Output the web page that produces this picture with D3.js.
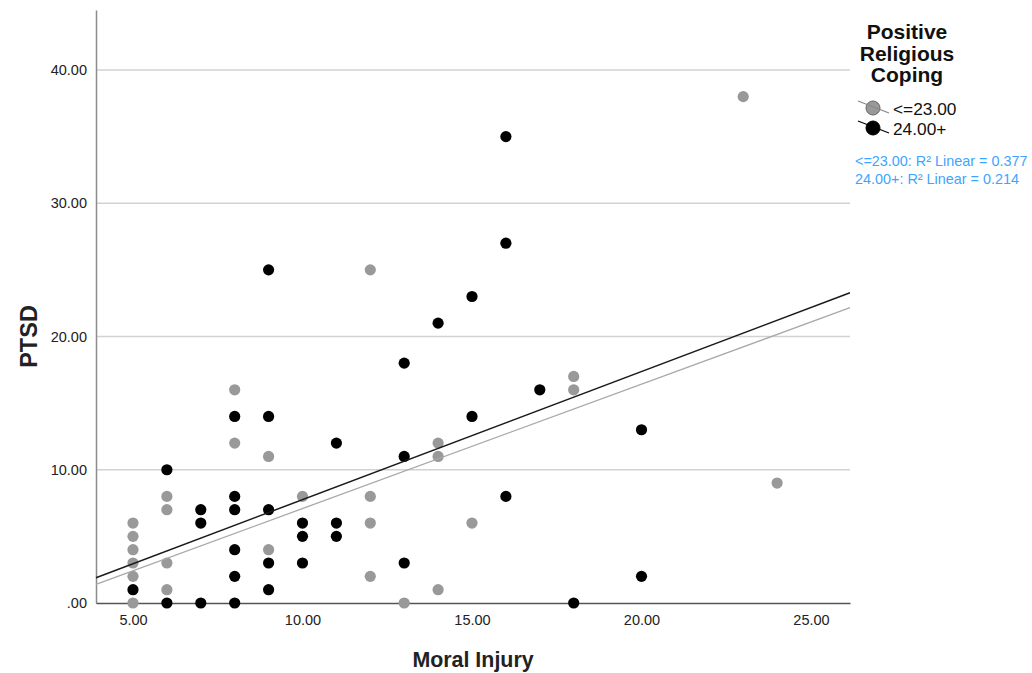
<!DOCTYPE html>
<html>
<head>
<meta charset="utf-8">
<script src="https://cdn.jsdelivr.net/npm/d3@7"></script>
<style>
  body { margin: 0; background: #fff; }
  text { font-family: "Liberation Sans", Arial, sans-serif; }
</style>
</head>
<body>
<svg id="chart" width="1032" height="673"></svg>
<script>
// values
const groups = ["<=23.00", "24.00+"];
const groupColors = ["#999999", "#000000"];
const lineColors = ["#a8a8a8", "#1a1a1a"];

const lowX = [5, 5, 5, 5, 5, 5, 6, 6, 6, 6, 8, 8, 9, 9, 10, 12, 12, 12, 12, 13, 14, 14, 14, 15, 18, 18, 23, 24];
const lowY = [6, 5, 4, 3, 2, 0, 8, 7, 3, 1, 16, 12, 11, 4, 8, 25, 8, 6, 2, 0, 12, 11, 1, 6, 17, 16, 38, 9];

const highX = [5, 6, 6, 7, 7, 7, 8, 8, 8, 8, 8, 8, 9, 9, 9, 9, 9, 10, 10, 10, 11, 11, 11, 13, 13, 13, 14, 15, 15, 16, 16, 16, 17, 18, 20, 20];
const highY = [1, 10, 0, 7, 6, 0, 14, 8, 7, 4, 2, 0, 25, 14, 7, 3, 1, 6, 5, 3, 12, 6, 5, 18, 11, 3, 21, 23, 14, 35, 27, 8, 16, 0, 13, 2];

// fit lines (intercept, slope) per group
const fitIntercept = [-2.245, -1.861];
const fitSlope = [0.9333, 0.9617];
const rSquared = ["0.377", "0.214"];

const xTicks = [5, 10, 15, 20, 25];
const yTicks = [0, 10, 20, 30, 40];

const margin = {top: 10, right: 182, bottom: 70, left: 96};
const width = 1032, height = 673;

const svg = d3.select("#chart");

const x = d3.scaleLinear()
  .domain([3.909, 26.15])
  .range([margin.left, width - margin.right]);
const y = d3.scaleLinear()
  .domain([0, 44.5])
  .range([height - margin.bottom, margin.top]);

const fmt = d => d === 0 ? ".00" : d3.format(".2f")(d);

// gridlines
svg.append("g")
  .selectAll("line")
  .data(yTicks.filter(d => d > 0))
  .enter()
  .append("line")
  .attr("x1", x.range()[0])
  .attr("x2", x.range()[1])
  .attr("y1", d => y(d))
  .attr("y2", d => y(d))
  .attr("stroke", "#d2d2d2")
  .attr("stroke-width", 1.6);

// y axis
const yAxis = svg.append("g")
  .attr("transform", `translate(${margin.left},0)`)
  .call(d3.axisLeft(y).tickValues(yTicks).tickFormat(fmt).tickSize(0).tickPadding(9));
yAxis.select(".domain").attr("stroke", "#8c8c8c").attr("stroke-width", 1.5);
yAxis.selectAll("text")
  .style("font-family", "Liberation Sans, Arial, sans-serif")
  .style("font-size", "14.5px")
  .attr("fill", "#222");

// x axis
const xAxis = svg.append("g")
  .attr("transform", `translate(0,${y(0)})`)
  .call(d3.axisBottom(x).tickValues(xTicks).tickFormat(fmt).tickSize(0).tickPadding(12));
xAxis.select(".domain").attr("stroke", "#555").attr("stroke-width", 1.6);
xAxis.selectAll("text")
  .style("font-family", "Liberation Sans, Arial, sans-serif")
  .style("font-size", "14.5px")
  .attr("fill", "#222");

// axis titles
svg.append("text")
  .attr("x", (x(3.909) + x(26.15)) / 2)
  .attr("y", 667)
  .attr("text-anchor", "middle")
  .style("font-size", "21.4px")
  .style("font-weight", "bold")
  .attr("fill", "#222")
  .text("Moral Injury");

svg.append("text")
  .attr("transform", `translate(37,${y(20)}) rotate(-90)`)
  .attr("text-anchor", "middle")
  .style("font-size", "23.5px")
  .style("font-weight", "bold")
  .attr("fill", "#222")
  .text("PTSD");

// points
const series = [
  lowX.map((v, i) => ({x: v, y: lowY[i], g: 0})),
  highX.map((v, i) => ({x: v, y: highY[i], g: 1}))
];

svg.append("g")
  .selectAll("circle")
  .data(series[0].concat(series[1]))
  .enter()
  .append("circle")
  .attr("cx", d => x(d.x))
  .attr("cy", d => y(d.y))
  .attr("r", 5.6)
  .attr("fill", d => groupColors[d.g]);

// fit lines
svg.append("g")
  .selectAll("line")
  .data([0, 1])
  .enter()
  .append("line")
  .attr("x1", x(3.909))
  .attr("x2", x(26.15))
  .attr("y1", g => y(fitIntercept[g] + fitSlope[g] * 3.909))
  .attr("y2", g => y(fitIntercept[g] + fitSlope[g] * 26.15))
  .attr("stroke", g => lineColors[g])
  .attr("stroke-width", g => g === 1 ? 1.5 : 1.3);

// legend
const legend = svg.append("g");
["Positive", "Religious", "Coping"].forEach((t, i) => {
  legend.append("text")
    .attr("x", 907)
    .attr("y", 39 + i * 21.5)
    .attr("text-anchor", "middle")
    .style("font-size", "21px")
    .style("font-weight", "bold")
    .attr("fill", "#111")
    .text(t);
});

const item = legend.selectAll("g.item")
  .data(groups)
  .enter()
  .append("g")
  .attr("class", "item")
  .attr("transform", (d, i) => `translate(873,${108 + i * 20})`);
item.append("circle")
  .attr("r", 7)
  .attr("fill", (d, i) => groupColors[i])
  .attr("stroke", (d, i) => i === 0 ? "#666" : "#000")
  .attr("stroke-width", 1);
item.append("line")
  .attr("x1", -15).attr("y1", -7)
  .attr("x2", 16).attr("y2", 5)
  .attr("stroke", (d, i) => i === 0 ? "#888" : "#000")
  .attr("stroke-width", 1.2);
item.append("text")
  .attr("x", 20)
  .attr("y", 7)
  .style("font-size", "17.3px")
  .attr("fill", "#111")
  .text(d => d);

legend.selectAll("text.r2")
  .data(groups)
  .enter()
  .append("text")
  .attr("class", "r2")
  .attr("x", 855)
  .attr("y", (d, i) => 166 + i * 18)
  .style("font-size", "14.4px")
  .attr("fill", "#3da5ff")
  .text((d, i) => `${d}: R\u00b2 Linear = ${rSquared[i]}`);
</script>
</body>
</html>
